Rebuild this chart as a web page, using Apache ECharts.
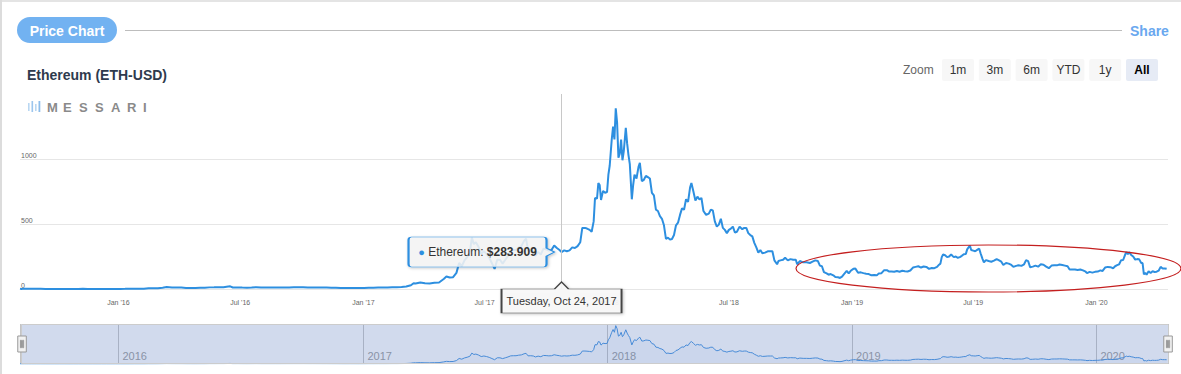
<!DOCTYPE html>
<html>
<head>
<meta charset="utf-8">
<script src="https://cdn.jsdelivr.net/npm/echarts@6/dist/echarts.min.js"></script>
<style>
html,body{margin:0;padding:0;background:#fff;}
#c{width:1181px;height:374px;}
</style>
</head>
<body>
<div id="c"></div>
<script>
// ---------------- DATA ----------------
const dates = [
'2015-08-07','2015-08-09','2015-08-11','2015-08-14','2015-08-17','2015-08-20','2015-08-24','2015-08-28',
'2015-09-01','2015-09-07','2015-09-14','2015-09-21','2015-09-28','2015-10-05','2015-10-12','2015-10-19','2015-10-26',
'2015-11-02','2015-11-09','2015-11-16','2015-11-23','2015-11-30','2015-12-07','2015-12-14','2015-12-21','2015-12-28',
'2016-01-04','2016-01-11','2016-01-18','2016-01-25','2016-02-01','2016-02-08','2016-02-15','2016-02-22','2016-02-29',
'2016-03-07','2016-03-13','2016-03-21','2016-03-28','2016-04-04','2016-04-11','2016-04-18','2016-04-25','2016-05-02',
'2016-05-09','2016-05-16','2016-05-23','2016-05-30','2016-06-06','2016-06-13','2016-06-16','2016-06-20','2016-06-27',
'2016-07-04','2016-07-11','2016-07-18','2016-07-25','2016-08-01','2016-08-08','2016-08-15','2016-08-22','2016-08-29',
'2016-09-05','2016-09-12','2016-09-19','2016-09-26','2016-10-03','2016-10-10','2016-10-17','2016-10-24','2016-10-31',
'2016-11-07','2016-11-14','2016-11-21','2016-11-28','2016-12-05','2016-12-12','2016-12-19','2016-12-26',
'2017-01-02','2017-01-09','2017-01-16','2017-01-23','2017-01-30','2017-02-06','2017-02-13','2017-02-20','2017-02-27',
'2017-03-06','2017-03-13','2017-03-17','2017-03-20','2017-03-27','2017-04-03','2017-04-10','2017-04-17','2017-04-24',
'2017-05-01','2017-05-05','2017-05-10','2017-05-15','2017-05-20','2017-05-24','2017-05-28','2017-06-01','2017-06-05',
'2017-06-09','2017-06-12','2017-06-15','2017-06-18','2017-06-22','2017-06-26','2017-06-30','2017-07-04','2017-07-08',
'2017-07-12','2017-07-16','2017-07-20','2017-07-24','2017-07-28','2017-08-01','2017-08-05','2017-08-09','2017-08-13',
'2017-08-17','2017-08-21','2017-08-25','2017-08-29','2017-09-01','2017-09-04','2017-09-08','2017-09-12','2017-09-15',
'2017-09-19','2017-09-23','2017-09-27','2017-10-01','2017-10-05','2017-10-09','2017-10-13','2017-10-17','2017-10-21',
'2017-10-24','2017-10-28','2017-11-01','2017-11-05','2017-11-09','2017-11-13','2017-11-17','2017-11-21','2017-11-24',
'2017-11-28','2017-12-01','2017-12-05','2017-12-08','2017-12-11','2017-12-13','2017-12-16','2017-12-18','2017-12-20',
'2017-12-22','2017-12-25','2017-12-28','2017-12-31',
'2018-01-02','2018-01-04','2018-01-07','2018-01-09','2018-01-11','2018-01-13','2018-01-15','2018-01-17','2018-01-19',
'2018-01-21','2018-01-23','2018-01-25','2018-01-28','2018-01-30','2018-02-01','2018-02-03','2018-02-06','2018-02-08',
'2018-02-10','2018-02-13','2018-02-16','2018-02-18','2018-02-21','2018-02-24','2018-02-27','2018-03-02','2018-03-05',
'2018-03-08','2018-03-11','2018-03-14','2018-03-17','2018-03-20','2018-03-23','2018-03-26','2018-03-29','2018-04-01',
'2018-04-04','2018-04-07','2018-04-10','2018-04-13','2018-04-16','2018-04-19','2018-04-22','2018-04-25','2018-04-28',
'2018-05-01','2018-05-04','2018-05-06','2018-05-09','2018-05-12','2018-05-15','2018-05-18','2018-05-21','2018-05-24',
'2018-05-28','2018-06-01','2018-06-04','2018-06-07','2018-06-10','2018-06-13','2018-06-16','2018-06-19','2018-06-22',
'2018-06-25','2018-06-28','2018-07-01','2018-07-04','2018-07-07','2018-07-10','2018-07-13','2018-07-17','2018-07-21',
'2018-07-24','2018-07-27','2018-07-30','2018-08-02','2018-08-05','2018-08-08','2018-08-11','2018-08-14','2018-08-17',
'2018-08-20','2018-08-24','2018-08-28','2018-09-01','2018-09-04','2018-09-07','2018-09-11','2018-09-13','2018-09-16',
'2018-09-20','2018-09-23','2018-09-27','2018-10-01','2018-10-05','2018-10-09','2018-10-11','2018-10-15','2018-10-20',
'2018-10-25','2018-10-30','2018-11-03','2018-11-07','2018-11-11','2018-11-14','2018-11-17','2018-11-20','2018-11-24',
'2018-11-27','2018-11-30','2018-12-04','2018-12-07','2018-12-11','2018-12-14','2018-12-17','2018-12-20','2018-12-24',
'2018-12-27','2018-12-30',
'2019-01-03','2019-01-06','2019-01-10','2019-01-14','2019-01-18','2019-01-22','2019-01-26','2019-01-30','2019-02-03',
'2019-02-07','2019-02-10','2019-02-14','2019-02-18','2019-02-22','2019-02-25','2019-03-01','2019-03-05','2019-03-09',
'2019-03-13','2019-03-17','2019-03-21','2019-03-25','2019-03-29','2019-04-02','2019-04-06','2019-04-10','2019-04-14',
'2019-04-18','2019-04-22','2019-04-26','2019-04-30','2019-05-04','2019-05-08','2019-05-11','2019-05-13','2019-05-15',
'2019-05-17','2019-05-20','2019-05-23','2019-05-26','2019-05-29','2019-06-02','2019-06-05','2019-06-08','2019-06-11',
'2019-06-14','2019-06-17','2019-06-20','2019-06-22','2019-06-26','2019-06-28','2019-07-01','2019-07-04','2019-07-08',
'2019-07-10','2019-07-12','2019-07-15','2019-07-17','2019-07-20','2019-07-24','2019-07-28','2019-08-01','2019-08-05',
'2019-08-08','2019-08-12','2019-08-15','2019-08-19','2019-08-23','2019-08-27','2019-08-30','2019-09-03','2019-09-07',
'2019-09-11','2019-09-15','2019-09-18','2019-09-21','2019-09-24','2019-09-28','2019-10-02','2019-10-06','2019-10-10',
'2019-10-14','2019-10-18','2019-10-22','2019-10-26','2019-10-30','2019-11-03','2019-11-07','2019-11-11','2019-11-15',
'2019-11-19','2019-11-22','2019-11-26','2019-11-30','2019-12-04','2019-12-08','2019-12-12','2019-12-16','2019-12-18',
'2019-12-22','2019-12-26','2019-12-30',
'2020-01-03','2020-01-07','2020-01-10','2020-01-14','2020-01-18','2020-01-22','2020-01-26','2020-01-29','2020-02-01',
'2020-02-04','2020-02-07','2020-02-10','2020-02-13','2020-02-15','2020-02-17','2020-02-19','2020-02-22','2020-02-25',
'2020-02-28','2020-03-02','2020-03-05','2020-03-08','2020-03-10','2020-03-12','2020-03-14','2020-03-16','2020-03-19',
'2020-03-22','2020-03-25','2020-03-28','2020-03-31','2020-04-03','2020-04-06','2020-04-09','2020-04-12','2020-04-15'
];
const prices = [
2.8,0.7,1.07,1.8,1.2,1.4,1.2,1.15,
1.35,1.25,0.9,0.9,0.65,0.63,0.63,0.48,0.9,
0.95,1.0,0.93,0.93,0.88,0.81,0.9,0.87,0.8,
0.95,1.0,1.4,2.3,2.3,2.7,5.2,5.5,6.5,
10.2,14.5,11.5,11.2,11.0,8.6,8.4,7.5,8.8,
9.5,12.5,12.8,14.0,13.7,18.5,20.5,11.5,12.5,
11.0,10.5,11.5,13.5,11.0,11.2,11.0,11.1,11.3,
11.8,12.2,13.0,12.9,13.2,11.9,12.0,11.5,10.8,
10.9,10.0,9.6,8.4,7.6,8.3,7.8,7.3,
8.3,10.2,9.8,10.8,10.7,11.3,13.0,12.7,15.7,
19.3,28.5,44,42,50,44,43,48,50,
77,96,88,91,124,200,175,220,245,
280,395,345,360,325,270,290,270,240,
198,155,225,225,195,225,255,295,300,
300,320,330,370,387,295,300,290,255,
285,265,310,305,295,300,335,315,300,
283.909,297,290,297,320,315,330,360,470,
470,465,455,440,520,700,695,815,800,
685,755,740,746,
880,950,1150,1250,1150,1390,1280,1010,1040,
1150,990,1060,1240,1120,1030,960,690,800,
880,850,940,970,830,840,870,860,850,
740,720,610,600,560,540,490,385,395,
380,385,415,490,510,570,620,610,690,
670,780,815,750,680,710,690,700,600,
570,580,610,605,520,480,495,540,470,
455,430,455,465,480,435,440,480,460,
470,470,430,415,405,355,320,280,300,
275,280,290,290,290,220,190,215,220,
225,240,220,230,225,225,190,215,205,
205,200,210,220,215,180,175,130,120,
110,115,105,92,90,85,95,115,140,
120,140,
155,157,125,128,122,118,115,105,107,
105,120,122,145,145,135,135,133,138,
133,140,136,135,142,165,170,175,165,
173,170,155,162,160,170,187,195,245,
265,260,245,250,265,245,250,240,245,
255,268,270,305,335,300,295,290,305,
310,275,230,205,222,215,210,218,230,
222,210,185,200,195,185,170,178,182,
178,190,222,215,168,172,180,172,190,
187,172,160,180,182,182,188,185,180,
175,150,150,150,147,150,143,133,122,
132,126,132,
134,143,138,165,170,168,160,175,183,
190,222,223,265,285,268,283,262,250,
226,230,228,200,200,112,125,110,136,
123,136,131,133,141,170,158,158,155
];
const seriesName = 'Ethereum';
const chartTitle = 'Ethereum (ETH-USD)';
const yTickInterval = 500;
const zoomButtons = ['1m','3m','6m','YTD','1y','All'];
const selectedButton = 'All';
const hoverDate = '2017-10-24';
const hoverValue = 283.909;
const rangeStart = '2015-08-07';
const rangeEnd = '2020-04-17';

// ---------------- HELPERS ----------------
const FONT = "'Liberation Sans', Arial, Helvetica, sans-serif";
function ts(s){ const p = s.split('-').map(Number); return new Date(p[0], p[1]-1, p[2]).getTime(); }
const MONTHS = ['Jan','Feb','Mar','Apr','May','Jun','Jul','Aug','Sep','Oct','Nov','Dec'];
const DAYS = ['Sunday','Monday','Tuesday','Wednesday','Thursday','Friday','Saturday'];
const data = dates.map((d,i)=>[ts(d), prices[i]]);
const hoverTs = ts(hoverDate);
const hd = new Date(hoverTs);
const hoverLabel = DAYS[hd.getDay()] + ', ' + MONTHS[hd.getMonth()] + ' ' + hd.getDate() + ', ' + hd.getFullYear();

const chart = echarts.init(document.getElementById('c'), null, {renderer:'svg'});

const graphics = [];
// page border
graphics.push({type:'line', shape:{x1:0,y1:1,x2:1181,y2:1}, style:{stroke:'#e4e4e4', lineWidth:2}, silent:true});
graphics.push({type:'line', shape:{x1:1,y1:0,x2:1,y2:374}, style:{stroke:'#dcdcdc', lineWidth:2}, silent:true});
// header pill
graphics.push({type:'rect', shape:{x:17,y:17,width:100,height:26,r:13}, style:{fill:'#72b2f1'}});
graphics.push({type:'text', x:67, y:30.5, style:{text:'Price Chart', fill:'#ffffff', font:'bold 14px '+FONT, textAlign:'center', textVerticalAlign:'middle'}});
graphics.push({type:'line', shape:{x1:125,y1:30.5,x2:1122,y2:30.5}, style:{stroke:'#bdbdbd', lineWidth:1}});
graphics.push({type:'text', x:1130, y:30.5, style:{text:'Share', fill:'#6aa8ef', font:'bold 14px '+FONT, textAlign:'left', textVerticalAlign:'middle'}});
// title
graphics.push({type:'text', x:27, y:75, style:{text:chartTitle, fill:'#2e3a4d', font:'bold 14px '+FONT, textAlign:'left', textVerticalAlign:'middle'}});
// messari logo
[[28,103,1.6,8,'#b9d7f2'],[31.5,101,1.6,11,'#9cc6ee'],[35,104,1.6,7,'#b9d7f2'],[38.5,101,1.8,11,'#8dbdea']].forEach(b=>{
  graphics.push({type:'rect', shape:{x:b[0],y:b[1],width:b[2],height:b[3]}, style:{fill:b[4]}});
});
'MESSARI'.split('').forEach((ch,i)=>{
  graphics.push({type:'text', x:47+i*16, y:107, style:{text:ch, fill:'#8a8a8a', font:'bold 13px '+FONT, textAlign:'left', textVerticalAlign:'middle'}});
});
// zoom buttons
graphics.push({type:'text', x:903, y:70, style:{text:'Zoom', fill:'#666666', font:'12px '+FONT, textAlign:'left', textVerticalAlign:'middle'}});
zoomButtons.forEach((b,i)=>{
  const x = 942 + i*36.8;
  const sel = b === selectedButton;
  graphics.push({type:'rect', shape:{x:x,y:59,width:32,height:22,r:2}, style:{fill: sel ? '#e6ebf5' : '#f7f7f7'}});
  graphics.push({type:'text', x:x+16, y:70, style:{text:b, fill: sel ? '#000000' : '#333333', font:(sel?'bold ':'')+'12px '+FONT, textAlign:'center', textVerticalAlign:'middle'}});
});
// red annotation ellipse
graphics.push({type:'ellipse', shape:{cx:988.5, cy:268.5, rx:192.5, ry:23.5}, style:{fill:'none', stroke:'#c41f1f', lineWidth:1.2}, z:20, silent:true});

const calloutPath = 'path://M3,0 H135 Q138,0 138,3 V11 L146,15 L138,19 V27 Q138,30 135,30 H3 Q0,30 0,27 V3 Q0,0 3,0 Z';
const dateBoxPath = 'path://M0,7 H53 L60,0 L67,7 H120 V31 H0 Z';

const option = {
  animation:false,
  backgroundColor:'#ffffff',
  textStyle:{fontFamily:FONT},
  graphic:graphics,
  grid:[
    {left:20, right:13, top:94, height:195, containLabel:false},
    {left:20, right:13, top:324, height:40, containLabel:false}
  ],
  xAxis:[
    {type:'time', gridIndex:0, min:ts(rangeStart), max:ts(rangeEnd),
     minInterval:182*864e5, maxInterval:184*864e5,
     axisLine:{show:false}, axisTick:{show:false}, splitLine:{show:false},
     axisLabel:{color:'#666666', fontSize:7, margin:10, hideOverlap:false,
       formatter:function(v){ const d=new Date(v); return MONTHS[d.getMonth()] + " '" + String(d.getFullYear()).slice(2); }}
    },
    {type:'time', gridIndex:1, min:ts(rangeStart), max:ts(rangeEnd),
     minInterval:365*864e5, maxInterval:366*864e5,
     axisLine:{show:false}, axisTick:{show:false},
     splitLine:{show:true, lineStyle:{color:'#c4c4c4', width:1}},
     axisLabel:{inside:true, color:'#999999', fontSize:11, margin:3, align:'left', padding:[0,0,0,4],
       formatter:function(v){ return String(new Date(v).getFullYear()); }}
    }
  ],
  yAxis:[
    {type:'value', gridIndex:0, min:0, max:1500, interval:yTickInterval,
     axisLine:{show:false}, axisTick:{show:false},
     splitLine:{show:true, lineStyle:{color:['#e6e6e6','#e6e6e6','#e6e6e6','rgba(0,0,0,0)'], width:1}},
     axisLabel:{inside:true, showMaxLabel:false, color:'#666666', fontSize:7, margin:1, verticalAlign:'bottom',
       formatter:function(v){ return String(v); }}
    },
    {type:'value', gridIndex:1, min:0, max:1450, show:false, splitLine:{show:false}}
  ],
  dataZoom:[
    {type:'slider', xAxisIndex:0, left:20, right:13, top:324, height:40, start:0, end:100,
     showDetail:false, showDataShadow:false, brushSelect:false, moveHandleSize:0,
     backgroundColor:'rgba(0,0,0,0)', borderColor:'#cccccc', fillerColor:'rgba(102,133,194,0.3)',
     handleIcon:'path://M0,0 H8 V15 H0 Z M2.5,4 V11 H3.5 V4 Z M4.5,4 V11 H5.5 V4 Z',
     handleSize:16,
     handleStyle:{color:'#f2f2f2', borderColor:'#999999', borderWidth:1},
     emphasis:{handleStyle:{color:'#f2f2f2', borderColor:'#999999'}}
    }
  ],
  series:[
    {name:seriesName, type:'line', xAxisIndex:0, yAxisIndex:0, data:data, showSymbol:false, silent:true,
     lineStyle:{color:'#2d8fe0', width:2}, itemStyle:{color:'#2d8fe0'},
     markLine:{silent:true, symbol:['none','none'], animation:false,
       lineStyle:{color:'#c8c8c8', width:1, type:'solid'}, label:{show:false},
       data:[{xAxis:hoverTs}]},
     markPoint:{silent:true, animation:false,
       data:[
         {coord:[hoverTs, hoverValue], symbol:calloutPath, symbolSize:[146,30], symbolOffset:[-80,0],
          itemStyle:{color:'rgba(247,247,247,0.85)', borderColor:'#2d8fe0', borderWidth:1,
            shadowBlur:3, shadowColor:'rgba(0,0,0,0.25)', shadowOffsetX:1, shadowOffsetY:1},
          label:{show:true, position:'inside', offset:[-4,0],
            formatter:'{dot|●} {t|' + seriesName + ': }{b|$' + hoverValue.toFixed(3) + '}',
            rich:{dot:{color:'#2d8fe0', fontSize:11, fontFamily:FONT},
                  t:{color:'#333333', fontSize:12, fontFamily:FONT},
                  b:{color:'#333333', fontSize:12, fontWeight:'bold', fontFamily:FONT}}}
         },
         {coord:[hoverTs, 0], symbol:dateBoxPath, symbolSize:[120,31], symbolOffset:[0,8.5],
          itemStyle:{color:'rgba(250,250,250,0.9)', borderColor:'#444444', borderWidth:1,
            shadowBlur:3, shadowColor:'rgba(0,0,0,0.25)', shadowOffsetX:1, shadowOffsetY:1},
          label:{show:true, position:'inside', offset:[0,3.5], formatter:hoverLabel,
            color:'#333333', fontSize:11, fontFamily:FONT}
         }
       ]}
    },
    {name:seriesName+' navigator', type:'line', xAxisIndex:1, yAxisIndex:1, data:data, showSymbol:false, silent:true,
     lineStyle:{color:'#3b8ee0', width:1}, areaStyle:{color:'rgba(47,143,224,0.06)'}}
  ]
};
chart.setOption(option);
</script>
</body>
</html>
